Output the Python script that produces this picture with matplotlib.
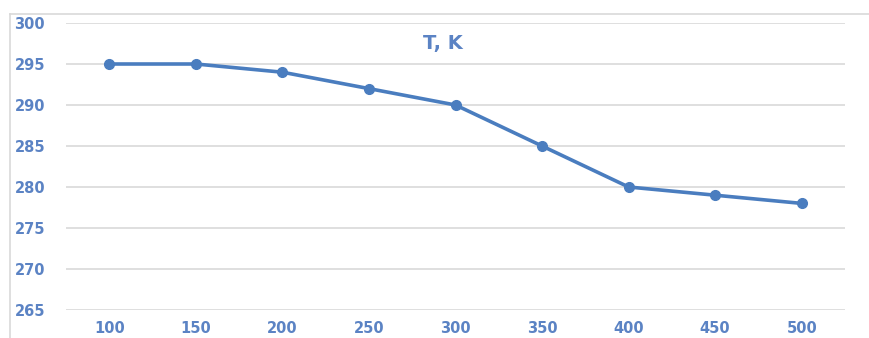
import matplotlib.pyplot as plt
from matplotlib.lines import Line2D

# data
categories = ['100', '150', '200', '250', '300', '350', '400', '450', '500']
temperature = [295, 295, 294, 292, 290, 285, 280, 279, 278]
yticks = [265, 270, 275, 280, 285, 290, 295, 300]
title = 'T, K'

linecolor = '#4a7dbf'
textcolor = '#5b83c4'
gridcolor = '#d9d9d9'

fig = plt.figure(figsize=(8.7, 3.38), dpi=100)
ax = fig.add_axes([66/870, 1-310/338, (845-66)/870, (310-23)/338])

xpos = range(len(categories))
ax.plot(xpos, temperature, color=linecolor, linewidth=2.6,
        marker='o', markersize=7, zorder=3)

ax.set_xlim(-0.5, len(categories)-0.5)
ax.set_ylim(yticks[0], yticks[-1])
ax.set_xticks(list(xpos))
ax.set_xticklabels(categories)
ax.set_yticks(yticks)

# light horizontal grid, no spines
ax.grid(axis='y', color=gridcolor, linewidth=1.2)
ax.set_axisbelow(True)
for s in ax.spines.values():
  s.set_visible(False)
ax.tick_params(length=0, labelsize=10.5, labelcolor=textcolor)
ax.tick_params(axis='y', pad=15)
ax.tick_params(axis='x', pad=8)
for lab in ax.get_xticklabels() + ax.get_yticklabels():
  lab.set_fontweight('bold')

# title inside the plot
fig.text(443/870, 1-44/338, title, fontsize=14, color=textcolor,
         fontweight='semibold', ha='center', va='center')

# outer frame (top and left) like the original screenshot
fig.add_artist(Line2D([10/870, 1], [1-14/338, 1-14/338], color='#d9d9d9', linewidth=1.2))
fig.add_artist(Line2D([10/870, 10/870], [0, 1-14/338], color='#d9d9d9', linewidth=1.2))

fig.savefig('out.png')
